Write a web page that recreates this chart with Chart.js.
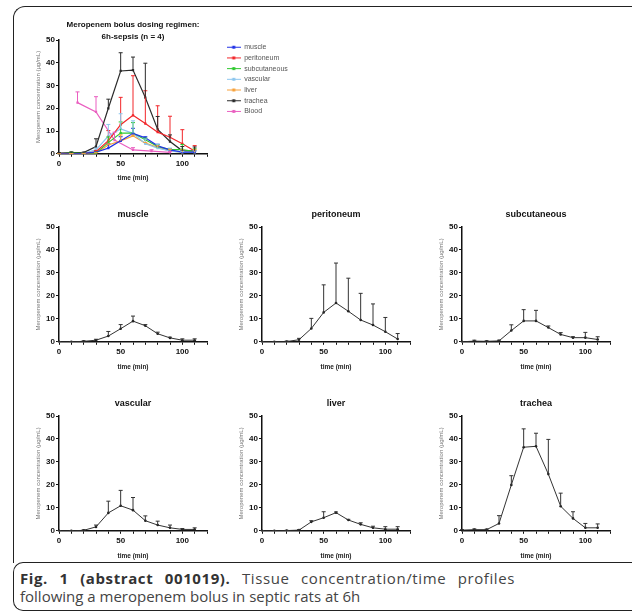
<!DOCTYPE html>
<html>
<head>
<meta charset="utf-8">
<script src="https://cdn.jsdelivr.net/npm/chart.js@4.4.1/dist/chart.umd.min.js"></script>
<style>
  body{margin:0;width:632px;height:616px;overflow:hidden;background:#fff;position:relative;font-family:"Liberation Sans",Arial,sans-serif}
  canvas{position:absolute}
  .frame{position:absolute;left:13px;top:6px;width:640px;height:556px;border:1.5px solid #222;border-right:none;border-bottom:none;border-radius:12px 0 0 0}
  .cap{position:absolute;left:13px;top:562px;width:640px;height:47px;border:1.5px solid #222;border-right:none;border-radius:10px 0 0 10px}
  .cap p{position:absolute;left:6px;top:6px;margin:0;width:495px;font:15px/18px "Open Sans",sans-serif;color:#444}
  .cap .l1{display:block;letter-spacing:0.6px;text-align:justify;text-align-last:justify}
  .cap b{color:#333}
</style>
</head>
<body>
<div class="frame"></div>
<canvas id="overview" width="258" height="166" style="left:35px;top:16px"></canvas>
<canvas id="c_muscle" width="178" height="166" style="left:35px;top:205px"></canvas>
<canvas id="c_peritoneum" width="178" height="166" style="left:238px;top:205px"></canvas>
<canvas id="c_subcutaneous" width="178" height="166" style="left:438px;top:205px"></canvas>
<canvas id="c_vascular" width="178" height="166" style="left:35px;top:394px"></canvas>
<canvas id="c_liver" width="178" height="166" style="left:238px;top:394px"></canvas>
<canvas id="c_trachea" width="178" height="166" style="left:438px;top:394px"></canvas>
<div class="cap"><p><span class="l1"><b>Fig. 1 (abstract 001019).</b> Tissue concentration/time profiles</span>following a meropenem bolus in septic rats at 6h</p></div>
<script>
// sampling times (min)
const times = [0,10,20,30,40,50,60,70,80,90,100,110];
const bloodTimes = [15,30,45,60,75,90];

// mean concentration (ug/mL) and upper SD per tissue
const muscle       = [0,0,0.2,0.7,2.5,5.7,9.0,7.0,3.5,1.7,0.7,0.7];
const muscleSD     = [0.1,0.1,0.2,0.4,2.0,1.8,2.2,0.5,0.7,0.3,0.6,0.6];
const peritoneum   = [0,0,0.1,0.9,5.8,12.8,16.9,13.3,9.5,7.3,4.4,1.2];
const peritoneumSD = [0.1,0.1,0.2,0.6,4.4,12.0,17.4,14.4,11.6,9.2,6.2,2.4];
const subcutaneous   = [0,0.3,0.2,0.4,4.9,9.1,9.1,6.2,3.2,1.8,1.8,1.0];
const subcutaneousSD = [0.1,0.4,0.2,0.3,2.5,4.9,4.6,0.7,0.8,0.4,2.3,1.2];
const vascular     = [0,0,0.2,1.7,7.8,10.9,9.0,4.4,2.5,1.3,0.6,0.6];
const vascularSD   = [0.1,0.1,0.2,0.8,5.1,6.7,5.5,2.1,1.7,1.2,0.4,0.7];
const liver        = [0,0,0.1,0.3,3.9,5.7,7.9,4.7,2.8,1.3,0.7,0.7];
const liverSD      = [0.1,0.1,0.1,0.2,0.5,2.6,0.3,0.3,0.7,0.7,1.1,1.1];
const trachea      = [0.3,0.5,0.5,3.2,20.0,36.4,36.8,24.7,10.7,5.4,1.3,1.3];
const tracheaSD    = [0.2,0.3,0.2,3.4,4.0,8.0,5.7,15.1,5.7,2.9,1.9,1.7];
const blood        = [22.5,18.4,6.0,1.7,1.2,0.6];
const bloodSD      = [4.7,6.7,3.5,1.0,0.6,0.4];

const xTickLabels = [0,50,100];
const yLabel = 'Meropenem concentration (µg/mL)';
const xLabel = 'time (min)';

Chart.defaults.font.family = '"Liberation Sans", Arial, sans-serif';
Chart.defaults.animation = false;

const pts = (xs, ys) => xs.map((x,i)=>({x, y: ys[i]}));

// upward-only SD whiskers with a cap
const errorBars = {
  id:'errorBars',
  afterDatasetsDraw(chart){
    const {ctx, scales:{x, y}} = chart;
    chart.data.datasets.forEach(ds=>{
      if(!ds.errors) return;
      ctx.save();
      ctx.strokeStyle = ds.borderColor;
      ctx.lineWidth = 1;
      ds.data.forEach((p,j)=>{
        const px = x.getPixelForValue(p.x);
        const py = y.getPixelForValue(p.y);
        const pe = y.getPixelForValue(p.y + ds.errors[j]);
        ctx.beginPath();
        ctx.moveTo(px, py); ctx.lineTo(px, pe);
        ctx.moveTo(px-2, pe); ctx.lineTo(px+2, pe);
        ctx.stroke();
      });
      ctx.restore();
    });
  }
};

function axes(xH){
  return {
    x:{type:'linear',min:0,max:120,
      border:{color:'#111',width:1.5},
      grid:{drawOnChartArea:false,drawTicks:true,tickLength:3,color:'#111',lineWidth:1},
      ticks:{stepSize:10,autoSkip:false,maxRotation:0,padding:2,color:'#111',font:{size:8,weight:'bold'},
        callback:v=>xTickLabels.includes(v)?String(v):''},
      title:{display:true,text:xLabel,color:'#222',font:{size:6.5,weight:'bold'},padding:0},
      afterFit:s=>{s.height=xH}},
    y:{min:0,max:50,
      border:{color:'#111',width:1.5},
      grid:{drawOnChartArea:false,drawTicks:true,tickLength:3,color:'#111',lineWidth:1},
      ticks:{stepSize:10,padding:1,color:'#111',font:{size:8,weight:'bold'}},
      title:{display:true,text:yLabel,color:'#777',font:{size:6},padding:0},
      afterFit:s=>{s.width=24}}
  };
}

// overview chart with all tissues
const series = [
  {label:'muscle',       xs:times,      ys:muscle,       sd:muscleSD,       color:'#2233e6'},
  {label:'peritoneum',   xs:times,      ys:peritoneum,   sd:peritoneumSD,   color:'#f2262a'},
  {label:'subcutaneous', xs:times,      ys:subcutaneous, sd:subcutaneousSD, color:'#2ec92e'},
  {label:'vascular',     xs:times,      ys:vascular,     sd:vascularSD,     color:'#8cc6ee'},
  {label:'liver',        xs:times,      ys:liver,        sd:liverSD,        color:'#f7a13a'},
  {label:'trachea',      xs:times,      ys:trachea,      sd:tracheaSD,      color:'#2b2b2b'},
  {label:'Blood',        xs:bloodTimes, ys:blood,        sd:bloodSD,        color:'#ea5fc0'}
];

function swatch(color){
  const c = document.createElement('canvas');
  c.width = 14; c.height = 5;
  const g = c.getContext('2d');
  g.strokeStyle = color; g.lineWidth = 1;
  g.beginPath(); g.moveTo(0,2.5); g.lineTo(14,2.5); g.stroke();
  g.fillStyle = color; g.fillRect(5.5,1,3,3);
  return c;
}

const overviewScales = axes(28.2);
overviewScales.gap = {type:'linear',position:'right',display:true,grid:{display:false},border:{display:false},
  ticks:{display:false},afterFit:s=>{s.width=16}};

new Chart(document.getElementById('overview'), {
  type:'line',
  data:{datasets: series.map(s=>({
    label:s.label, data:pts(s.xs, s.ys), errors:s.sd,
    borderColor:s.color, backgroundColor:s.color, borderWidth:1.2,
    pointStyle:'rect', pointRadius:1.6, pointBorderWidth:0, tension:0
  }))},
  options:{
    responsive:false,
    layout:{padding:0},
    scales:overviewScales,
    plugins:{
      tooltip:{enabled:false},
      title:{display:true,fullSize:false,text:['Meropenem bolus dosing regimen:','6h-sepsis (n = 4)'],
        color:'#111',font:{size:8,weight:'bold',lineHeight:1.5},padding:{top:3,bottom:-3}},
      legend:{position:'right',align:'start',fullSize:false,maxWidth:70,
        labels:{usePointStyle:true,pointStyleWidth:14,boxHeight:5,padding:3.7,color:'#555',font:{size:7},
          generateLabels:chart=>chart.data.datasets.map((ds,i)=>({
            text:ds.label, pointStyle:swatch(ds.borderColor), fillStyle:ds.borderColor,
            strokeStyle:ds.borderColor, lineWidth:0, hidden:false, datasetIndex:i, fontColor:'#555'}))}}
    }
  },
  plugins:[errorBars]
});

// one panel per tissue
function panel(id, title, ys, sd){
  new Chart(document.getElementById(id), {
    type:'line',
    data:{datasets:[{label:title, data:pts(times, ys), errors:sd,
      borderColor:'#333', backgroundColor:'#222', borderWidth:1,
      pointRadius:1.3, pointBorderWidth:0, tension:0}]},
    options:{
      responsive:false,
      layout:{padding:{right:6}},
      scales:axes(29.2),
      plugins:{
        tooltip:{enabled:false},
        legend:{display:false},
        title:{display:true,fullSize:false,text:title,color:'#111',
          font:{size:9,weight:'bold',lineHeight:1.2},padding:{top:4.6,bottom:6.6}}
      }
    },
    plugins:[errorBars]
  });
}

panel('c_muscle','muscle',muscle,muscleSD);
panel('c_peritoneum','peritoneum',peritoneum,peritoneumSD);
panel('c_subcutaneous','subcutaneous',subcutaneous,subcutaneousSD);
panel('c_vascular','vascular',vascular,vascularSD);
panel('c_liver','liver',liver,liverSD);
panel('c_trachea','trachea',trachea,tracheaSD);
</script>
</body>
</html>
